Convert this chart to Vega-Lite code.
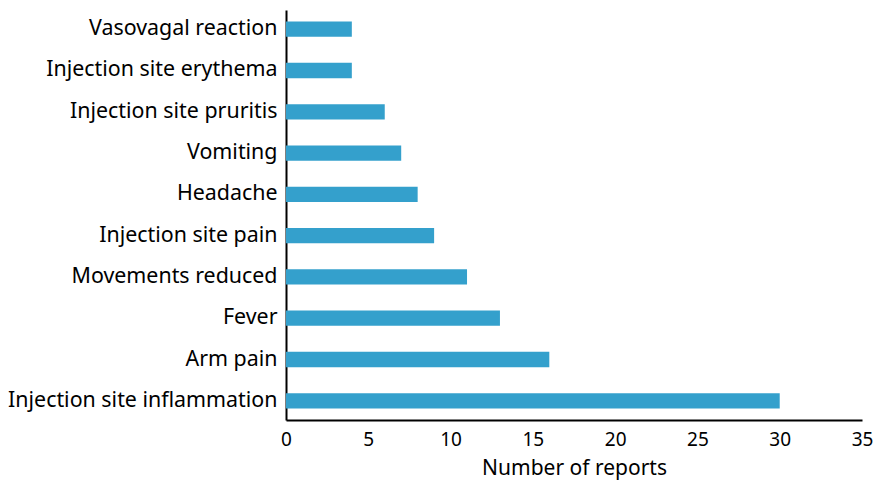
{
  "$schema": "https://vega.github.io/schema/vega-lite/v6.json",
  "autosize": "none",
  "width": 576,
  "height": 410,
  "padding": {"left": 286, "top": 10, "right": 13, "bottom": 60},
  "background": "white",
  "config": {"view": {"stroke": null}, "font": "Noto Sans"},
  "data": {"values": [
    {"event": "Vasovagal reaction", "reports": 4},
    {"event": "Injection site erythema", "reports": 4},
    {"event": "Injection site pruritis", "reports": 6},
    {"event": "Vomiting", "reports": 7},
    {"event": "Headache", "reports": 8},
    {"event": "Injection site pain", "reports": 9},
    {"event": "Movements reduced", "reports": 11},
    {"event": "Fever", "reports": 13},
    {"event": "Arm pain", "reports": 16},
    {"event": "Injection site inflammation", "reports": 30}
  ]},
  "mark": {"type": "bar", "color": "#34a0cc"},
  "encoding": {
    "y": {
      "field": "event", "type": "nominal", "sort": null,
      "scale": {"paddingInner": 0.63, "paddingOuter": 0.28},
      "axis": {"title": null, "ticks": false, "domainColor": "black", "domainWidth": 2,
               "labelFontSize": 21.4, "labelColor": "black", "labelPadding": 9, "labelFont": "Noto Sans", "labelLimit": 320}
    },
    "x": {
      "field": "reports", "type": "quantitative",
      "scale": {"domain": [0, 35], "nice": false},
      "axis": {"title": "Number of reports", "values": [0,5,10,15,20,25,30,35], "grid": false, "ticks": false,
               "domainColor": "black", "domainWidth": 2, "labelFontSize": 19, "labelColor": "black",
               "labelPadding": 10, "titleFontSize": 21, "titleFontWeight": "normal", "titleColor": "black",
               "titlePadding": 8, "labelFont": "Noto Sans", "titleFont": "Noto Sans", "labelFlush": false}
    }
  }
}
